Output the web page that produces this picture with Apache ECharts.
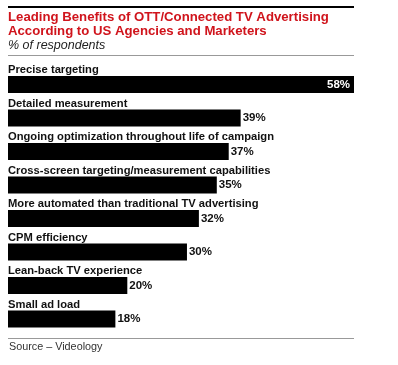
<!DOCTYPE html>
<html><head><meta charset="utf-8">
<script src="https://cdn.jsdelivr.net/npm/echarts@6/dist/echarts.min.js"></script>
<style>html,body{margin:0;padding:0;background:#fff}#c{width:398px;height:365px}</style>
</head><body><div id="c"></div>
<script>
const categories = [
  "Precise targeting",
  "Detailed measurement",
  "Ongoing optimization throughout life of campaign",
  "Cross-screen targeting/measurement capabilities",
  "More automated than traditional TV advertising",
  "CPM efficiency",
  "Lean-back TV experience",
  "Small ad load"
];
const values = [58, 39, 37, 35, 32, 30, 20, 18];
const titleLines = ["Leading Benefits of OTT/Connected TV Advertising", "According to US Agencies and Marketers"];
const subtitle = "% of respondents";
const source = "Source \u2013 Videology";

const chart = echarts.init(document.getElementById('c'), null, {renderer: 'canvas'});
const FONT = '"Liberation Sans", Arial, sans-serif';
chart.setOption({
  animation: false,
  backgroundColor: '#fff',
  grid: {left: 8, width: 346, top: 67.75, height: 268, containLabel: false},
  xAxis: {type: 'value', min: 0, max: 58, show: false},
  yAxis: {
    type: 'category', data: categories, inverse: true,
    axisLine: {show: false}, axisTick: {show: false}, splitLine: {show: false},
    axisLabel: {
      inside: true, align: 'left', verticalAlign: 'bottom', margin: 0,
      padding: [0, 0, 9, 0],
      fontFamily: FONT, fontWeight: 'bold', fontSize: 11.2, color: '#111'
    },
    z: 5
  },
  series: [{
    type: 'bar', barWidth: 17,
    data: values.map((v, i) => ({
      value: v,
      label: i === 0
        ? {position: 'insideRight', color: '#fff', distance: 4}
        : {position: 'right', color: '#111', distance: 2}
    })),
    itemStyle: {color: '#000'},
    label: {show: true, formatter: '{c}%', fontFamily: FONT, fontWeight: 'bold', fontSize: 11.5}
  }],
  graphic: [
    {type: 'line', shape: {x1: 8, y1: 7, x2: 354, y2: 7}, style: {stroke: '#000', lineWidth: 2}},
    {type: 'text', x: 8, y: 17, style: {text: titleLines[0], fill: '#d0141c', font: 'bold 13.2px ' + FONT, verticalAlign: 'middle'}},
    {type: 'text', x: 8, y: 31.5, style: {text: titleLines[1], fill: '#d0141c', font: 'bold 13.2px ' + FONT, verticalAlign: 'middle'}},
    {type: 'text', x: 8, y: 46, style: {text: subtitle, fill: '#222', font: 'italic 12.5px ' + FONT, verticalAlign: 'middle'}},
    {type: 'line', shape: {x1: 8, y1: 55.5, x2: 354, y2: 55.5}, style: {stroke: '#999', lineWidth: 1}},
    {type: 'line', shape: {x1: 8, y1: 338.5, x2: 354, y2: 338.5}, style: {stroke: '#999', lineWidth: 1}},
    {type: 'text', x: 9, y: 347, style: {text: source, fill: '#333', font: '10.8px ' + FONT, verticalAlign: 'middle'}}
  ]
});
</script></body></html>
